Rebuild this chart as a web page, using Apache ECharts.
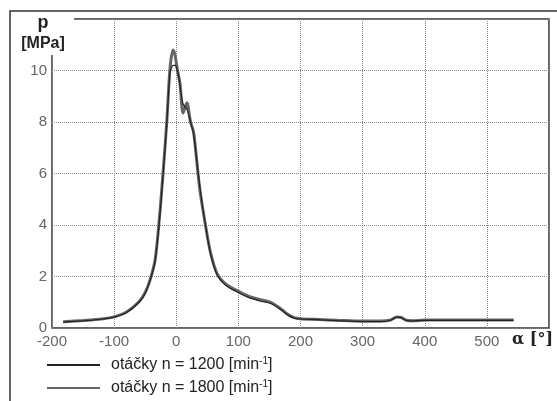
<!DOCTYPE html>
<html>
<head>
<meta charset="utf-8">
<script src="https://cdn.jsdelivr.net/npm/echarts@6/dist/echarts.min.js"></script>
<style>
  html, body { margin: 0; padding: 0; background: #fff; }
  #chart { width: 557px; height: 401px; }
</style>
</head>
<body>
<div id="chart"></div>
<script>
// crank angle [deg]
const alpha = [-182, -150, -120, -100, -80, -60, -50, -42, -34, -27, -21, -15, -10, -5, -2, 2, 6, 11, 17,
               23, 28, 35, 39, 47, 55, 66, 80, 98, 115, 135, 152, 168, 180, 190, 200, 230, 260, 300,
               330, 345, 355, 362, 370, 380, 400, 450, 500, 543];
// cylinder pressure [MPa]
const p1200 = [0.23, 0.28, 0.34, 0.42, 0.6, 1.0, 1.35, 1.85, 2.6, 4.2, 6.0, 8.0, 9.9, 10.2, 10.2, 10.0, 9.4, 8.7, 8.5,
               8.0, 7.5, 6.1, 5.3, 4.0, 2.9, 2.05, 1.65, 1.4, 1.2, 1.05, 0.95, 0.72, 0.5, 0.38, 0.35, 0.32, 0.28, 0.25,
               0.25, 0.3, 0.42, 0.4, 0.3, 0.27, 0.3, 0.3, 0.3, 0.3];
const p1800 = [0.24, 0.29, 0.35, 0.43, 0.62, 1.02, 1.38, 1.88, 2.65, 4.3, 6.1, 8.1, 10.1, 10.8, 10.6, 10.0, 9.5, 8.35, 8.75,
               8.0, 7.6, 6.0, 5.2, 4.0, 2.95, 2.1, 1.7, 1.45, 1.25, 1.1, 1.0, 0.75, 0.52, 0.4, 0.36, 0.33, 0.3, 0.27,
               0.27, 0.31, 0.43, 0.41, 0.3, 0.28, 0.31, 0.31, 0.31, 0.31];
const legendNames = ['otáčky n = 1200 [min{sup|-1}]', 'otáčky n = 1800 [min{sup|-1}]'];

const chart = echarts.init(document.getElementById('chart'));

function pairs(xs, ys) {
  return xs.map((x, i) => [x, ys[i]]);
}

const option = {
  backgroundColor: '#fff',
  animation: false,
  grid: {
    left: 52, right: 8, top: 19, bottom: 73,
    show: true, borderColor: '#333', borderWidth: 1.5
  },
  xAxis: {
    type: 'value', min: -200, max: 600, interval: 100,
    name: 'α [°]', nameLocation: 'end', nameGap: 4,
    nameTextStyle: {
      align: 'right', verticalAlign: 'top', padding: [4, 0, 0, 0],
      fontFamily: 'DejaVu Serif', fontWeight: 'bold', fontSize: 16, color: '#222'
    },
    axisLine: { show: false }, axisTick: { show: false },
    axisLabel: {
      color: '#666', fontFamily: 'Liberation Sans', fontSize: 15, margin: 6,
      formatter: v => (v === 600 ? '' : String(v))
    },
    splitLine: { lineStyle: { type: 'dotted', color: '#888', width: 1 } }
  },
  yAxis: {
    type: 'value', min: 0, max: 12, interval: 2,
    axisLine: { show: false }, axisTick: { show: false },
    axisLabel: {
      color: '#666', fontFamily: 'Liberation Sans', fontSize: 15, margin: 5,
      formatter: v => (v === 12 ? '' : String(v))
    },
    splitLine: { lineStyle: { type: 'dotted', color: '#888', width: 1 } }
  },
  legend: {
    orient: 'vertical', left: 47, top: 356, padding: 0, itemGap: 6, itemWidth: 53, itemHeight: 2,
    icon: 'rect',
    data: [
      { name: legendNames[0] },
      { name: legendNames[1] }
    ],
    textStyle: {
      fontFamily: 'Liberation Sans', fontSize: 16, color: '#222', padding: [0, 0, 0, 6],
      rich: { sup: { fontSize: 10, verticalAlign: 'top', padding: [0, 0, 8, 0] } }
    }
  },
  graphic: [
    { type: 'rect', z: 100, shape: { x: 10, y: 11, width: 600, height: 500 },
      style: { fill: 'none', stroke: '#333', lineWidth: 1.5 } },
    { type: 'rect', z: 101, shape: { x: 11, y: 13, width: 63, height: 42 },
      style: { fill: '#fff' } },
    { type: 'text', z: 102, x: 43, y: 14,
      style: { text: 'p', font: 'bold 18px "Liberation Sans"', fill: '#222', textAlign: 'center' } },
    { type: 'text', z: 102, x: 43, y: 36,
      style: { text: '[MPa]', font: 'bold 16px "Liberation Sans"', fill: '#222', textAlign: 'center' } }
  ],
  series: [
    {
      name: legendNames[1], type: 'line', symbol: 'none', smooth: 0.3,
      data: pairs(alpha, p1800),
      lineStyle: { color: '#666', width: 3 }, itemStyle: { color: '#666' }
    },
    {
      name: legendNames[0], type: 'line', symbol: 'none', smooth: 0.3,
      data: pairs(alpha, p1200),
      lineStyle: { color: '#222', width: 1.2 }, itemStyle: { color: '#222' }
    }
  ]
};

chart.setOption(option);
</script>
</body>
</html>
